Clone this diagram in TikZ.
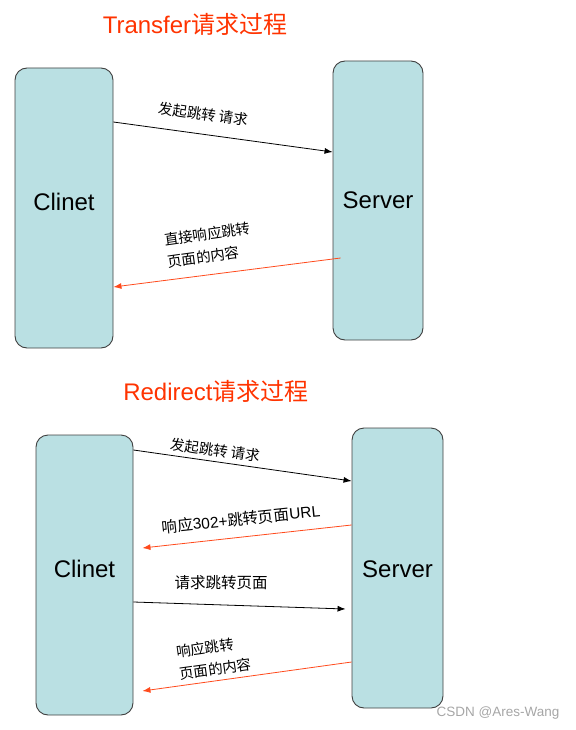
\documentclass[tikz,border=0pt]{standalone}
\usepackage{fontspec}
\setmainfont{Liberation Sans}
\newfontfamily\cjk{Noto Sans CJK SC}
\usetikzlibrary{arrows.meta,calc}
\definecolor{boxfill}{HTML}{BAE0E3}
\definecolor{boxline}{HTML}{404040}
\definecolor{titlered}{HTML}{FF3300}
\definecolor{arrred}{HTML}{FF4A1C}
\tikzset{
  actor/.style={draw=boxline, fill=boxfill, line width=0.9pt, rounded corners=12pt, inner sep=0pt},
  boxtext/.style={font=\fontsize{24}{28}\selectfont},
  ttl/.style={text=titlered, font=\fontsize{24}{28}\selectfont, inner sep=0pt},
  lbl/.style={font=\fontsize{14.5}{23}\selectfont\cjk, inner sep=0pt},
  reqarrow/.style={draw=black, line width=0.8pt, -{Latex[length=8pt,width=6pt]}},
  resarrow/.style={draw=arrred, line width=0.8pt, -{Latex[length=8pt,width=6pt]}},
}
\begin{document}
\begin{tikzpicture}[x=1pt,y=-1pt]
\useasboundingbox (0,0) rectangle (575,730);
% ---------- Transfer ----------
\node[ttl] (t1) at (195,24) {Transfer{\cjk 请求过程}};
\node[actor, minimum width=98pt, minimum height=280pt,
      label={[boxtext, yshift=6pt]center:Clinet}] (c1) at (64,208) {};
\node[actor, minimum width=90pt, minimum height=279pt,
      label={[boxtext, yshift=0pt]center:Server}] (s1) at (378,200.5) {};
\draw[reqarrow] (c1.east |- 0,122) -- (s1.west |- 0,152);
\draw[resarrow] ($(s1.west |- 0,258)+(8,0)$) -- (c1.east |- 0,287);
\node[lbl, rotate=-8] (l1) at (203,114) {发起跳转 请求};
\node[lbl, rotate=8, align=left] (l2) at (209,245) {直接响应跳转\\页面的内容};
% ---------- Redirect ----------
\node[ttl] (t2) at (216,391) {Redirect{\cjk 请求过程}};
\node[actor, minimum width=97pt, minimum height=280pt,
      label={[boxtext, yshift=6pt]center:Clinet}] (c2) at (84.5,575) {};
\node[actor, minimum width=91pt, minimum height=280pt,
      label={[boxtext, yshift=-1pt]center:Server}] (s2) at (397.5,568) {};
\draw[reqarrow] (c2.east |- 0,450) -- (s2.west |- 0,481);
\draw[resarrow] (s2.west |- 0,525) -- ($(c2.east |- 0,548)+(9,0)$);
\draw[reqarrow] (c2.east |- 0,602) -- ($(s2.west |- 0,609)+(-6,0)$);
\draw[resarrow] (s2.west |- 0,662) -- ($(c2.east |- 0,691)+(9,0)$);
\node[lbl, rotate=-8] (l3) at (215,450) {发起跳转 请求};
\node[lbl, rotate=6, font=\fontsize{15.5}{23}\selectfont] (l4) at (241,519) {{\cjk 响应}302+{\cjk 跳转页面}URL};
\node[lbl, font=\fontsize{15.5}{23}\selectfont\cjk] (l5) at (221,583) {请求跳转页面};
\node[lbl, rotate=8, align=left] (l6) at (214,658) {响应跳转\\页面的内容};
% watermark
\node[text=gray!70, font=\fontsize{13.5}{16}\selectfont, inner sep=0pt] (wm) at (498,713) {CSDN @Ares-Wang};
\end{tikzpicture}
\end{document}
